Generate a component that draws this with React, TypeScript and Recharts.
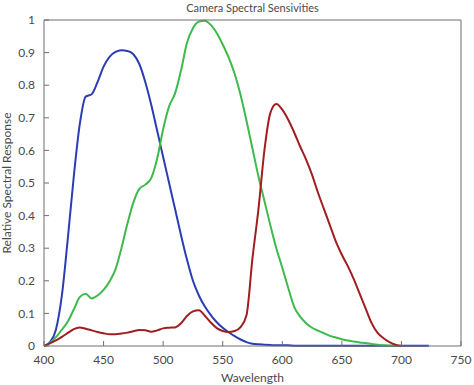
import { Line, LineChart, XAxis, YAxis } from "recharts";

const wavelengths = [
  400, 405, 410, 415, 420, 425, 430, 435, 440, 445, 450, 455, 460, 465, 470, 475, 480, 485, 490, 495,
  500, 505, 510, 515, 520, 525, 530, 535, 540, 545, 550, 555, 560, 565, 570, 575, 580, 585, 590, 595,
  600, 605, 610, 615, 620, 625, 630, 635, 640, 645, 650, 655, 660, 665, 670, 675, 680, 685, 690, 695,
  700, 710, 723,
];

const blue = [
  0, 0.012, 0.05, 0.155, 0.33, 0.52, 0.68, 0.765, 0.772, 0.81, 0.857, 0.887, 0.902, 0.907, 0.905, 0.895, 0.865, 0.81, 0.74, 0.66,
  0.58, 0.5, 0.42, 0.34, 0.265, 0.2, 0.155, 0.121, 0.095, 0.073, 0.056, 0.042, 0.03, 0.02, 0.012, 0.007, 0.005, 0.004, 0.003, 0.002,
  0.002, 0.002, 0.001, 0.001, 0.001, 0.001, 0.001, 0.001, 0.001, 0.001, 0.001, 0.001, 0.001, 0.001, 0.001, 0.001, 0.001, 0.001, 0.001, 0.001,
  0.001, 0.001, 0.001,
];

const green = [
  0, 0.01, 0.027, 0.05, 0.075, 0.112, 0.15, 0.16, 0.146, 0.155, 0.172, 0.198, 0.235, 0.3, 0.375, 0.44, 0.482, 0.495, 0.515, 0.575,
  0.665, 0.735, 0.775, 0.845, 0.93, 0.975, 0.995, 0.998, 0.985, 0.96, 0.925, 0.885, 0.835, 0.77, 0.69, 0.605, 0.52, 0.445, 0.37, 0.3,
  0.24, 0.178, 0.12, 0.09, 0.07, 0.056, 0.047, 0.039, 0.031, 0.026, 0.021, 0.017, 0.014, 0.011, 0.009, 0.006, 0.004, 0.002, 0.001, 0.0005,
  0, null, null,
];

const red = [
  0, 0.008, 0.017, 0.028, 0.04, 0.052, 0.057, 0.053, 0.048, 0.043, 0.039, 0.036, 0.036, 0.038, 0.041, 0.045, 0.049, 0.048, 0.044, 0.048,
  0.054, 0.056, 0.057, 0.07, 0.092, 0.106, 0.11, 0.093, 0.072, 0.055, 0.046, 0.043, 0.046, 0.058, 0.095, 0.27, 0.42, 0.6, 0.715, 0.742,
  0.725, 0.694, 0.655, 0.612, 0.572, 0.525, 0.47, 0.42, 0.37, 0.32, 0.28, 0.245, 0.205, 0.16, 0.115, 0.07, 0.04, 0.024, 0.012, 0.004,
  0, null, null,
];

const xTicks = [400, 450, 500, 550, 600, 650, 700, 750];
const yTicks = [0, 0.1, 0.2, 0.3, 0.4, 0.5, 0.6, 0.7, 0.8, 0.9, 1];

const data = wavelengths.map((w, i) => ({ w, blue: blue[i], green: green[i], red: red[i] }));

const FONT = "Lato, 'Open Sans', sans-serif";
const AXIS = "#6f6f6f";
const TEXT = "#4a4a4a";

export default function App() {
  return (
    <div style={{ position: "absolute", left: 0, top: 0, width: 474, height: 385, fontFamily: FONT, background: "#fff" }}>
      <div
        style={{
          position: "absolute",
          left: 44,
          width: 417,
          top: 0,
          textAlign: "center",
          fontSize: 11,
          color: TEXT,
          lineHeight: "16px",
        }}
      >
        Camera Spectral Sensivities
      </div>
      <LineChart width={474} height={385} data={data} margin={{ top: 19, right: 12, left: 0, bottom: 0 }}>
        <XAxis
          dataKey="w"
          type="number"
          domain={[400, 750]}
          ticks={xTicks}
          allowDataOverflow
          height={39}
          stroke={AXIS}
          tickSize={-5}
          tickMargin={14}
          tick={{ fill: TEXT, fontSize: 12, fontFamily: FONT }}
          label={{ value: "Wavelength", position: "insideBottom", offset: 3, fill: TEXT, fontSize: 12, fontFamily: FONT }}
        />
        <XAxis
          xAxisId="top"
          orientation="top"
          type="number"
          domain={[400, 750]}
          ticks={xTicks}
          allowDataOverflow
          height={1}
          tick={false}
          stroke={AXIS}
          tickSize={-5}
        />
        <YAxis
          type="number"
          domain={[0, 1]}
          ticks={yTicks}
          width={44}
          stroke={AXIS}
          tickSize={-5}
          tickMargin={14}
          tick={{ fill: TEXT, fontSize: 12, fontFamily: FONT }}
          label={{
            value: "Relative Spectral Response",
            angle: -90,
            position: "insideLeft",
            offset: 7,
            fill: TEXT,
            fontSize: 12,
            fontFamily: FONT,
            style: { textAnchor: "middle" },
          }}
        />
        <YAxis
          yAxisId="right"
          orientation="right"
          type="number"
          domain={[0, 1]}
          ticks={yTicks}
          width={1}
          tick={false}
          stroke={AXIS}
          tickSize={-5}
        />
        <Line type="monotone" dataKey="blue" stroke="#2b3db3" strokeWidth={2} dot={false} isAnimationActive={false} />
        <Line type="monotone" dataKey="green" stroke="#3dba4c" strokeWidth={2} dot={false} isAnimationActive={false} />
        <Line type="monotone" dataKey="red" stroke="#a11d1f" strokeWidth={2} dot={false} isAnimationActive={false} />
      </LineChart>
    </div>
  );
}
